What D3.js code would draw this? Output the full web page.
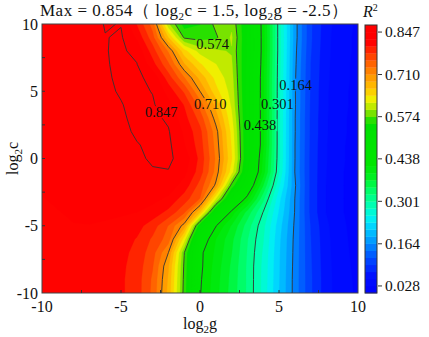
<!DOCTYPE html>
<html>
<head>
<meta charset="utf-8">
<script src="https://cdn.jsdelivr.net/npm/d3@7"></script>
<style>
body { margin: 0; background: #fff; }
text { font-family: "Liberation Serif", "Times New Roman", serif; fill: #111; }
</style>
</head>
<body>
<div id="chart"></div>
<script>
// ##################################
// Grid search contour: R^2 over log2g / log2c
// ##################################

// Grid columns (log2g) and rows (log2c, top to bottom)
const gValues = [-10, -9, -8, -7, -6, -5, -4, -3, -2, -1, 0, 1, 2, 3, 4, 5, 6, 7, 8, 9, 10];
const cValues = [10, 9, 8, 7, 6, 5, 4, 3, 2, 1, 0, -1, -2, -3, -4, -5, -6, -7, -8, -9, -10];

// R^2, one row per log2c value
const r2Rows = [
  [0.836,0.835,0.834,0.832,0.849,0.846,0.800,0.745,0.600,0.540,0.550,0.580,0.592,0.525,0.424,0.290,0.175,0.100,0.060,0.035,0.025],
  [0.838,0.839,0.840,0.841,0.846,0.850,0.820,0.765,0.665,0.570,0.565,0.570,0.600,0.525,0.425,0.290,0.175,0.100,0.058,0.034,0.024],
  [0.838,0.840,0.842,0.844,0.846,0.851,0.840,0.790,0.730,0.650,0.610,0.600,0.595,0.525,0.425,0.290,0.172,0.098,0.057,0.034,0.024],
  [0.838,0.840,0.842,0.844,0.845,0.852,0.848,0.810,0.760,0.690,0.645,0.620,0.600,0.522,0.423,0.288,0.170,0.096,0.056,0.033,0.023],
  [0.837,0.839,0.841,0.843,0.844,0.851,0.852,0.840,0.790,0.735,0.680,0.635,0.605,0.520,0.420,0.287,0.168,0.095,0.055,0.033,0.023],
  [0.836,0.838,0.840,0.842,0.843,0.849,0.853,0.846,0.815,0.775,0.710,0.650,0.610,0.520,0.420,0.286,0.167,0.094,0.054,0.032,0.022],
  [0.835,0.837,0.839,0.841,0.842,0.846,0.853,0.850,0.830,0.800,0.745,0.680,0.615,0.520,0.420,0.286,0.167,0.093,0.054,0.032,0.022],
  [0.834,0.836,0.838,0.840,0.841,0.844,0.852,0.853,0.843,0.810,0.770,0.700,0.625,0.520,0.420,0.285,0.166,0.092,0.053,0.031,0.021],
  [0.833,0.834,0.835,0.836,0.837,0.838,0.852,0.854,0.849,0.820,0.785,0.720,0.635,0.520,0.420,0.285,0.166,0.092,0.053,0.031,0.021],
  [0.830,0.831,0.832,0.833,0.834,0.836,0.845,0.854,0.852,0.825,0.790,0.725,0.640,0.520,0.420,0.285,0.165,0.091,0.052,0.030,0.020],
  [0.828,0.829,0.830,0.831,0.832,0.834,0.843,0.850,0.851,0.838,0.795,0.730,0.645,0.520,0.410,0.285,0.165,0.090,0.052,0.030,0.020],
  [0.826,0.827,0.828,0.829,0.831,0.834,0.838,0.845,0.846,0.830,0.790,0.725,0.630,0.510,0.405,0.280,0.164,0.090,0.051,0.029,0.019],
  [0.825,0.826,0.827,0.828,0.830,0.833,0.836,0.838,0.836,0.815,0.770,0.705,0.565,0.480,0.370,0.260,0.168,0.090,0.050,0.029,0.019],
  [0.824,0.825,0.826,0.827,0.828,0.830,0.832,0.830,0.820,0.790,0.755,0.620,0.500,0.425,0.330,0.240,0.164,0.090,0.050,0.029,0.019],
  [0.823,0.824,0.825,0.826,0.826,0.826,0.824,0.815,0.795,0.760,0.665,0.510,0.430,0.360,0.300,0.230,0.163,0.090,0.050,0.029,0.019],
  [0.822,0.823,0.824,0.824,0.823,0.820,0.810,0.790,0.755,0.700,0.530,0.440,0.390,0.335,0.285,0.220,0.160,0.095,0.055,0.031,0.020],
  [0.821,0.822,0.823,0.822,0.820,0.812,0.800,0.775,0.745,0.630,0.465,0.415,0.375,0.325,0.280,0.215,0.158,0.097,0.057,0.032,0.021],
  [0.821,0.822,0.822,0.821,0.817,0.808,0.795,0.765,0.710,0.575,0.445,0.410,0.370,0.322,0.275,0.213,0.157,0.098,0.058,0.033,0.022],
  [0.820,0.821,0.822,0.821,0.816,0.806,0.792,0.758,0.690,0.570,0.445,0.405,0.365,0.320,0.272,0.212,0.156,0.099,0.059,0.034,0.023],
  [0.820,0.821,0.822,0.821,0.815,0.805,0.790,0.752,0.684,0.567,0.442,0.402,0.362,0.320,0.271,0.211,0.155,0.100,0.060,0.035,0.024],
  [0.820,0.822,0.823,0.822,0.815,0.805,0.790,0.750,0.680,0.565,0.440,0.400,0.360,0.320,0.270,0.210,0.155,0.100,0.060,0.035,0.025]
];

// Colour bar ticks (also the labelled contour levels) and fill bands per tick step
const barTicks = [0.028, 0.164, 0.301, 0.438, 0.574, 0.710, 0.847];
const bandsPerTick = 6;

// Contour labels: level and where the label sits (log2g, log2c)
const lineLabels = [
  {level: "0.847", g: -2.45, c: 3.45},
  {level: "0.710", g: 0.65, c: 4.05},
  {level: "0.574", g: 0.8, c: 8.5},
  {level: "0.438", g: 3.8, c: 2.5},
  {level: "0.301", g: 4.9, c: 4.05},
  {level: "0.164", g: 6.05, c: 5.5}
];

const xTicks = [-10, -5, 0, 5, 10];
const yTicks = [-10, -5, 0, 5, 10];


// Store values for svg creation
const w = 429, h = 337;
const plotL = 42, plotR = 358, plotT = 24, plotB = 293;
const barL = 365, barW = 12;

const svg = d3.select("#chart")
              .append("svg")
              .attr("width", w)
              .attr("height", h);

svg.append("rect").attr("width", w).attr("height", h).attr("fill", "#fff");

const xScale = d3.scaleLinear().domain([-10, 10]).range([plotL, plotR]);
const yScale = d3.scaleLinear().domain([-10, 10]).range([plotB, plotT]);

// Levels of the filled bands, one below the first tick up to one above the last
const tickStep = (barTicks[barTicks.length - 1] - barTicks[0]) / (barTicks.length - 1);
const bandStep = tickStep / bandsPerTick;
const nBands = (barTicks.length - 1) * bandsPerTick + 2;
const levels = d3.range(nBands + 1).map(k => barTicks[0] + (k - 1) * bandStep);

// Rainbow colour map like the original
const color = d3.scaleLinear()
    .domain([0.00, 0.06, 0.12, 0.17, 0.22, 0.25, 0.29, 0.33, 0.38, 0.42, 0.55, 0.575, 0.60, 0.63, 0.66, 0.70, 0.74, 0.78, 0.80, 0.815, 0.90])
    .range(["#0000ff", "#0010ff", "#0050ff", "#0095ff", "#00d5ff", "#00f5f0", "#00ffb0", "#00ff70", "#00f020",
            "#00e600", "#00e000", "#50e000", "#b0e800", "#f0f000", "#ffc800", "#ff9c00", "#ff6a00", "#ff3400",
            "#ff1400", "#ff0000", "#ff0000"]);
const bandColor = i => color((levels[i] + levels[i + 1]) / 2);


// Contours from the grid
const nx = gValues.length, ny = cValues.length;
const values = r2Rows.flat();
const gStep = gValues[1] - gValues[0];
const cStep = cValues[1] - cValues[0];

const proj = d3.geoTransform({
    point: function(x, y) {
        this.stream.point(xScale(gValues[0] + (x - 0.5) * gStep),
                          yScale(cValues[0] + (y - 0.5) * cStep));
    }
});
const path = d3.geoPath(proj);

svg.append("clipPath").attr("id", "plotClip")
    .append("rect")
    .attr("x", plotL).attr("y", plotT)
    .attr("width", plotR - plotL).attr("height", plotB - plotT);

const plot = svg.append("g").attr("clip-path", "url(#plotClip)");

const filled = d3.contours().size([nx, ny]).thresholds(levels.slice(0, nBands))(values);

plot.append("g")
    .selectAll("path")
    .data(filled)
    .join("path")
        .attr("d", path)
        .attr("fill", (d, i) => bandColor(i))
        .attr("stroke", (d, i) => bandColor(i))
        .attr("stroke-width", 0.3);

// Contour lines, broken where the labels sit
const mask = svg.append("mask").attr("id", "labelMask")
    .attr("maskUnits", "userSpaceOnUse")
    .attr("x", 0).attr("y", 0).attr("width", w).attr("height", h);
mask.append("rect").attr("width", w).attr("height", h).attr("fill", "#fff");

const lineLevels = barTicks.slice(1);
const lines = d3.contours().size([nx, ny]).thresholds(lineLevels)(values);

plot.append("g")
    .attr("mask", "url(#labelMask)")
    .selectAll("path")
    .data(lines)
    .join("path")
        .attr("d", path)
        .attr("fill", "none")
        .attr("stroke", "#333")
        .attr("stroke-width", 0.9);

const labelG = svg.append("g");
lineLabels.forEach(l => {
    const t = labelG.append("text")
        .attr("x", xScale(l.g))
        .attr("y", yScale(l.c))
        .attr("dy", "0.35em")
        .attr("text-anchor", "middle")
        .attr("font-size", 14.5)
        .text(l.level);
    const bb = t.node().getBBox();
    mask.append("rect")
        .attr("x", bb.x - 1).attr("y", bb.y + 2)
        .attr("width", bb.width + 2).attr("height", bb.height - 4)
        .attr("fill", "#000");
});


// Frame and inward ticks (every 2.5)
svg.append("rect")
    .attr("x", plotL).attr("y", plotT)
    .attr("width", plotR - plotL).attr("height", plotB - plotT)
    .attr("fill", "none").attr("stroke", "#444").attr("stroke-width", 1);

const minor = d3.range(-7.5, 10, 2.5);
svg.append("g").selectAll("line")
    .data(minor)
    .join("line")
        .attr("x1", d => xScale(d)).attr("x2", d => xScale(d))
        .attr("y1", plotB).attr("y2", plotB - 3)
        .attr("stroke", "#333");
svg.append("g").selectAll("line")
    .data(minor)
    .join("line")
        .attr("y1", d => yScale(d)).attr("y2", d => yScale(d))
        .attr("x1", plotL).attr("x2", plotL + 3)
        .attr("stroke", "#333");

svg.append("g").selectAll("text")
    .data(xTicks)
    .join("text")
        .attr("x", d => xScale(d))
        .attr("y", 312)
        .attr("text-anchor", "middle")
        .attr("font-size", 16)
        .text(d => d);

svg.append("g").selectAll("text")
    .data(yTicks)
    .join("text")
        .attr("x", plotL - 4)
        .attr("y", d => yScale(d))
        .attr("dy", "0.35em")
        .attr("text-anchor", "end")
        .attr("font-size", 16)
        .text(d => d);


// Axis titles with subscript 2
function subLabel(sel, base, rest) {
    sel.append("tspan").text(base);
    sel.append("tspan").attr("font-size", 11).attr("dy", 4).text("2");
    sel.append("tspan").attr("dy", -4).text(rest);
}

const xTitle = svg.append("text")
    .attr("x", xScale(0)).attr("y", 329)
    .attr("text-anchor", "middle").attr("font-size", 16);
subLabel(xTitle, "log", "g");

const yTitle = svg.append("text")
    .attr("transform", "translate(18," + ((plotT + plotB) / 2) + ") rotate(-90)")
    .attr("text-anchor", "middle").attr("font-size", 16);
subLabel(yTitle, "log", "c");

const title = svg.append("text")
    .attr("x", 40).attr("y", 16).attr("font-size", 17)
    .attr("letter-spacing", 0.5);
title.append("tspan").text("Max = 0.854（ log");
title.append("tspan").attr("font-size", 11).attr("dy", 4).text("2");
title.append("tspan").attr("dy", -4).text("c = 1.5, log");
title.append("tspan").attr("font-size", 11).attr("dy", 4).text("2");
title.append("tspan").attr("dy", -4).text("g = -2.5）");


// Colour bar
const barScale = d3.scaleLinear()
    .domain([levels[0], levels[nBands]])
    .range([plotB, plotT + 1]);

svg.append("g").selectAll("rect")
    .data(d3.range(nBands))
    .join("rect")
        .attr("x", barL)
        .attr("y", i => barScale(levels[i + 1]))
        .attr("width", barW)
        .attr("height", i => barScale(levels[i]) - barScale(levels[i + 1]) + 0.3)
        .attr("fill", i => bandColor(i));

svg.append("rect")
    .attr("x", barL).attr("y", barScale(levels[nBands]))
    .attr("width", barW).attr("height", plotB - barScale(levels[nBands]))
    .attr("fill", "none").attr("stroke", "#333");

const barAxis = svg.append("g");
barAxis.selectAll("line")
    .data(barTicks)
    .join("line")
        .attr("x1", barL + barW + 1).attr("x2", barL + barW + 5)
        .attr("y1", d => barScale(d)).attr("y2", d => barScale(d))
        .attr("stroke", "#333");
barAxis.selectAll("text")
    .data(barTicks)
    .join("text")
        .attr("x", barL + barW + 8)
        .attr("y", d => barScale(d))
        .attr("dy", "0.35em")
        .attr("font-size", 15.5)
        .text(d => d.toFixed(3));

const r2 = svg.append("text").attr("x", 363).attr("y", 17).attr("font-size", 16);
r2.append("tspan").attr("font-style", "italic").text("R");
r2.append("tspan").attr("font-size", 10).attr("dy", -6).text("2");
</script>
</body>
</html>
